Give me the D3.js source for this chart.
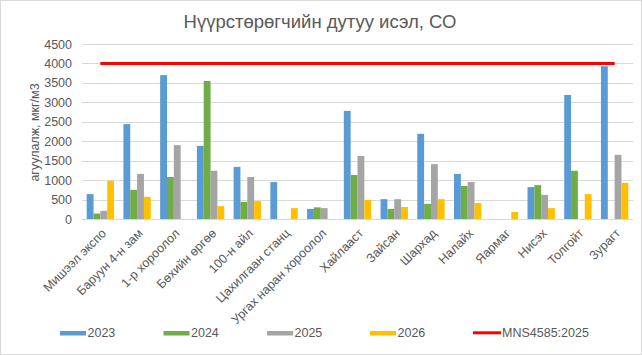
<!DOCTYPE html>
<html><head><meta charset="utf-8">
<script src="https://cdn.jsdelivr.net/npm/d3@7"></script>
<style>
html,body{margin:0;padding:0;background:#fff;}
svg{display:block;font-family:"Liberation Sans",Arial,sans-serif;}
</style>
</head><body>
<svg id="chart" width="642" height="355"></svg>
<script>
const categories = ["Мишээл экспо","Баруун 4-н зам","1-р хороолол","Бөхийн өргөө","100-н айл","Цахилгаан станц","Ургах наран хороолол","Хайлааст","Зайсан","Шархад","Налайх","Яармаг","Нисэх","Толгойт","Зурагт"];
const seriesNames = ["2023","2024","2025","2026"];
const v2023 = [640,2440,3700,1880,1340,950,260,2780,510,2190,1160,null,820,3190,3930];
const v2024 = [140,750,1080,3550,440,null,300,1130,260,390,850,null,870,1240,null];
const v2025 = [210,1160,1900,1240,1080,null,280,1620,510,1410,950,null,620,null,1650];
const v2026 = [980,570,null,330,460,280,null,490,310,510,410,180,280,640,930];
const standardName = "MNS4585:2025";
const standardValue = 4000;
const yTicks = [0,500,1000,1500,2000,2500,3000,3500,4000,4500];
const title = "Нүүрстөрөгчийн дутуу исэл, СО";
const yTitle = "агуулалж, мкг/м3";

const colors = ["#5b9bd5","#70ad47","#a5a5a5","#ffc000"];
const series = [v2023,v2024,v2025,v2026];
const svg = d3.select("#chart");
const txt = "#595959";

svg.append("rect").attr("x",0.5).attr("y",0.5).attr("width",641).attr("height",354)
  .attr("fill","#fff").attr("stroke","#d9d9d9");

const pL=82,pR=633,pT=44,pB=219;
const x0 = d3.scaleBand().domain(categories).range([pL,pR]).paddingInner(0.255).paddingOuter(0.1275);
const x1 = d3.scaleBand().domain(seriesNames).range([0,x0.bandwidth()]).padding(0);
const y = d3.scaleLinear().domain([0,4500]).range([pB,pT]);

// gridlines
svg.append("g").selectAll("line").data(yTicks).join("line")
  .attr("x1",pL).attr("x2",pR)
  .attr("y1",d=>Math.round(y(d))+0.5).attr("y2",d=>Math.round(y(d))+0.5)
  .attr("stroke","#d9d9d9").attr("stroke-width",1);

// y labels
const yAxis = d3.axisLeft(y).tickValues(yTicks).tickFormat(d3.format("d")).tickSize(0).tickPadding(0);
const ya = svg.append("g").attr("transform",`translate(${pL-10},0)`).call(yAxis);
ya.select(".domain").remove();
ya.selectAll("text").attr("fill",txt).attr("font-size",12.5).attr("font-family","Liberation Sans, Arial, sans-serif");

// bars
series.forEach((vals,si)=>{
  svg.append("g").selectAll("rect")
    .data(categories.map((c,i)=>({c,v:vals[i]})).filter(d=>d.v!=null))
    .join("rect")
    .attr("x",d=>x0(d.c)+x1(seriesNames[si]))
    .attr("width",x1.bandwidth())
    .attr("y",d=>y(d.v))
    .attr("height",d=>y(0)-y(d.v))
    .attr("fill",colors[si]);
});

// standard line
svg.append("line")
  .attr("x1",x0(categories[0])+x0.bandwidth()/2)
  .attr("x2",x0(categories[categories.length-1])+x0.bandwidth()/2)
  .attr("y1",y(standardValue)).attr("y2",y(standardValue))
  .attr("stroke","#ff0000").attr("stroke-width",3);

// x labels
const xAxis = d3.axisBottom(x0).tickSize(0).tickPadding(0);
const xa = svg.append("g").attr("transform",`translate(0,${pB})`).call(xAxis);
xa.select(".domain").remove();
xa.selectAll("text")
  .attr("fill",txt).attr("font-size",12.5).attr("font-family","Liberation Sans, Arial, sans-serif")
  .attr("text-anchor","end").attr("dy",null).attr("y",0)
  .attr("transform","translate(6.5,15) rotate(-45)");

// title
svg.append("text").attr("x",320).attr("y",28).attr("text-anchor","middle")
  .attr("fill",txt).attr("font-size",18.5).text(title);

// y title
svg.append("text").attr("transform",`translate(39,${(pT+pB)/2+1}) rotate(-90)`)
  .attr("text-anchor","middle").attr("fill",txt).attr("font-size",12.5).text(yTitle);

// legend
const legX = [60,163.5,267,370];
const lg = svg.append("g");
seriesNames.forEach((s,i)=>{
  lg.append("rect").attr("x",legX[i]).attr("y",331).attr("width",26).attr("height",4.5).attr("fill",colors[i]);
  lg.append("text").attr("x",legX[i]+27.5).attr("y",337.3).attr("fill",txt).attr("font-size",12.5).text(s);
});
lg.append("line").attr("x1",473).attr("x2",501).attr("y1",332.8).attr("y2",332.8).attr("stroke","#ff0000").attr("stroke-width",3);
lg.append("text").attr("x",502).attr("y",337.3).attr("fill",txt).attr("font-size",12.5).text(standardName);
</script>
</body></html>
